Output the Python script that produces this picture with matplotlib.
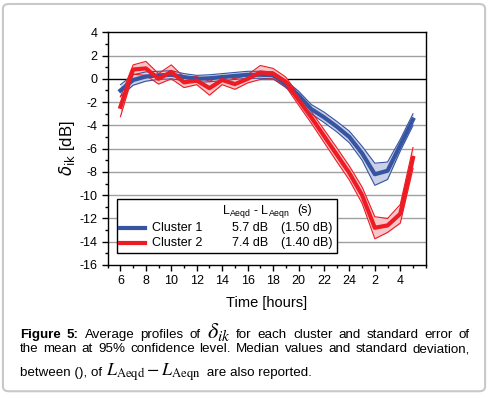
import numpy as np
import matplotlib
matplotlib.use("Agg")
import matplotlib.pyplot as plt
from matplotlib.patches import Rectangle, FancyBboxPatch
from matplotlib.lines import Line2D

plt.rcParams['font.family'] = ['Liberation Sans', 'DejaVu Sans']
plt.rcParams['axes.unicode_minus'] = False

# hour of day (25 = 1 am next day, ...)
hours = list(range(6, 30))
tick_pos = [6, 8, 10, 12, 14, 16, 18, 20, 22, 24, 26, 28]
tick_labels = ['6', '8', '10', '12', '14', '16', '18', '20', '22', '24', '2', '4']

# cluster 1 (blue): mean and 95% half-width
c1_mean = [-1.0, -0.1, 0.2, 0.3, 0.35, 0.15, 0.0, 0.05, 0.15, 0.25, 0.35, 0.35,
           0.3, -0.45, -1.4, -2.6, -3.3, -4.1, -5.0, -6.4, -8.2, -7.9, -5.7, -3.5]
c1_err = [0.5, 0.45, 0.4, 0.35, 0.35, 0.3, 0.3, 0.3, 0.3, 0.3, 0.3, 0.3,
          0.3, 0.3, 0.35, 0.4, 0.45, 0.45, 0.5, 0.6, 0.95, 0.75, 0.5, 0.5]

# cluster 2 (red)
c2_mean = [-2.4, 0.8, 0.9, 0.0, 0.6, -0.3, -0.15, -0.8, -0.1, -0.45, 0.0, 0.55,
           0.45, -0.25, -1.8, -3.3, -4.9, -6.5, -8.1, -10.0, -12.8, -12.6, -11.6, -6.8]
c2_err = [0.85, 0.4, 0.6, 0.45, 0.6, 0.45, 0.35, 0.6, 0.4, 0.45, 0.35, 0.6,
          0.45, 0.4, 0.45, 0.5, 0.55, 0.6, 0.6, 0.7, 0.95, 0.6, 0.8, 0.9]

clusters = ['Cluster 1', 'Cluster 2']
medians = ['5.7 dB', '7.4 dB']
stds = ['(1.50 dB)', '(1.40 dB)']

blue = '#3654a0'
red = '#ed1c24'

fig = plt.figure(figsize=(4.9, 3.98), dpi=100)
ax = fig.add_axes([0.2198, 0.3342, 0.649, 0.5846])

x = np.array(hours)
for mean, err, col, fc in [(c1_mean, c1_err, blue, '#c9d0e8'),
                           (c2_mean, c2_err, red, '#f8c6c8')]:
    m = np.array(mean)
    e = np.array(err)
    ax.fill_between(x, m - e, m + e, color=fc, lw=0, zorder=3)
    ax.plot(x, m + e, color=col, lw=0.8, zorder=4)
    ax.plot(x, m - e, color=col, lw=0.8, zorder=4)
    ax.plot(x, m, color=col, lw=3, zorder=5)

ax.set_xlim(5, 30)
ax.set_ylim(-16, 4)
ax.set_xticks(tick_pos)
ax.set_xticklabels(tick_labels)
ax.set_xticks(np.arange(5, 31, 1), minor=True)
ax.set_yticks(np.arange(-16, 5, 2))
ax.set_yticks(np.arange(-16, 5, 1), minor=True)
ax.tick_params(which='major', direction='out', length=4, width=1, labelsize=9)
ax.tick_params(which='minor', direction='out', length=2, width=1)
for gy in np.arange(-14, 4, 2):
    if gy != 0:
        ax.axhline(gy, color='#a0a0a0', lw=1, zorder=1)
ax.axhline(0, color='black', lw=1, zorder=2)
for s in ax.spines.values():
    s.set_linewidth(1)

ax.set_xlabel('Time [hours]', fontsize=10.5, labelpad=6)
ax.set_ylabel(r'$\delta_{\mathrm{ik}}$ [dB]', fontsize=12, labelpad=2)

# legend box drawn as a small table
ax.add_patch(Rectangle((0.030, 0.050), 0.692, 0.232, transform=ax.transAxes,
                       facecolor='white', edgecolor='black', lw=1, zorder=6))
ax.text(0.358, 0.232, r'L$_{\mathregular{Aeqd}}$ - L$_{\mathregular{Aeqn}}$', transform=ax.transAxes,
        fontsize=9, va='center', ha='left', zorder=7)
ax.text(0.620, 0.235, '(s)', transform=ax.transAxes, fontsize=9,
        va='center', ha='center', zorder=7)
for i, (name, med, sd, col) in enumerate(zip(clusters, medians, stds, [blue, red])):
    yy = 0.158 - i * 0.065
    ax.add_line(Line2D([0.039, 0.117], [yy, yy], transform=ax.transAxes,
                       color=col, lw=3, zorder=7))
    ax.text(0.138, yy, name, transform=ax.transAxes, fontsize=9, va='center', zorder=7)
    ax.text(0.505, yy, med, transform=ax.transAxes, fontsize=9, va='center',
            ha='right', zorder=7)
    ax.text(0.706, yy, sd, transform=ax.transAxes, fontsize=9, va='center',
            ha='right', zorder=7)

# rounded frame around figure + caption
fig.patches.append(FancyBboxPatch((0.006, 0.017), 0.984, 0.973,
                                  boxstyle='round,pad=0,rounding_size=0.012',
                                  transform=fig.transFigure, facecolor='none',
                                  edgecolor='#c8c8c8', lw=1.5))

W, H = 490, 398
renderer = fig.canvas.get_renderer()
FS = 9.6


def justify(words, y, x0=20, x1=470):
    arts = []
    for w, kw in words:
        props = {'fontsize': FS}
        props.update(kw)
        t = fig.text(0, 1 - y / H, w, va='baseline', ha='left', **props)
        arts.append(t)
    widths = [a.get_window_extent(renderer).width for a in arts]
    gap = (x1 - x0 - sum(widths)) / (len(arts) - 1)
    xx = x0
    for a, wd in zip(arts, widths):
        a.set_x(xx / W)
        xx += wd + gap


line1 = [('Figure', {'weight': 'bold'}), ('5:', {'weight': 'bold'}),
         ('Average', {}), ('profiles', {}), ('of', {}),
         (r'$\delta_{ik}$', {'math_fontfamily': 'stix', 'fontsize': 16}),
         ('for', {}), ('each', {}), ('cluster', {}), ('and', {}),
         ('standard', {}), ('error', {}), ('of', {})]
justify(line1, 337.7)
line2 = [(w, {}) for w in 'the mean at 95% confidence level. Median values and standard deviation,'.split()]
justify(line2, 352.3)

t1 = fig.text(20 / W, 1 - 375.7 / H, 'between (), of ', fontsize=FS, va='baseline')
w1 = t1.get_window_extent(renderer).width
t2 = fig.text((20 + w1) / W, 1 - 375.7 / H,
              r'$L_{\mathrm{Aeqd}} - L_{\mathrm{Aeqn}}$', fontsize=13,
              math_fontfamily='stix', va='baseline')
w2 = t2.get_window_extent(renderer).width
fig.text((20 + w1 + w2 + 2) / W, 1 - 375.7 / H, ' are also reported.', fontsize=FS,
         va='baseline')

fig.savefig('out.png', dpi=100)
